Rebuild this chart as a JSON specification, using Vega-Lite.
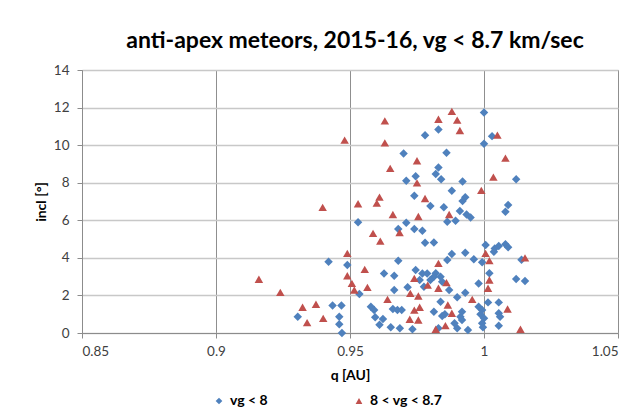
{
  "$schema": "https://vega.github.io/schema/vega-lite/v6.json",
  "width": 536,
  "height": 263,
  "autosize": {"type": "none"},
  "padding": {"left": 82, "top": 70, "right": 14, "bottom": 79},
  "background": "white",
  "title": {
    "text": "anti-apex meteors, 2015-16, vg < 8.7 km/sec",
    "font": "Lato",
    "fontSize": 23,
    "fontWeight": "bold",
    "color": "#000000",
    "anchor": "middle",
    "offset": 10,
    "dx": 5
  },
  "config": {
    "view": {"stroke": "#8c8c8c", "strokeWidth": 1},
    "axis": {
      "labelFont": "Lato",
      "labelFontSize": 13.5,
      "labelColor": "#404040",
      "titleFont": "Lato",
      "titleFontSize": 14,
      "titleFontWeight": "bold",
      "titleColor": "#000000",
      "domainColor": "#8c8c8c",
      "tickColor": "#8c8c8c",
      "tickSize": 5
    }
  },
  "data": {
    "values": [
      {"q": 0.978, "incl": 10.53, "group": "vg < 8"},
      {"q": 0.970, "incl": 9.56, "group": "vg < 8"},
      {"q": 0.9745, "incl": 8.35, "group": "vg < 8"},
      {"q": 0.971, "incl": 8.10, "group": "vg < 8"},
      {"q": 0.974, "incl": 7.30, "group": "vg < 8"},
      {"q": 0.953, "incl": 5.9, "group": "vg < 8"},
      {"q": 1.000, "incl": 11.74, "group": "vg < 8"},
      {"q": 0.983, "incl": 10.83, "group": "vg < 8"},
      {"q": 1.003, "incl": 10.48, "group": "vg < 8"},
      {"q": 1.000, "incl": 10.07, "group": "vg < 8"},
      {"q": 0.986, "incl": 9.59, "group": "vg < 8"},
      {"q": 0.983, "incl": 8.81, "group": "vg < 8"},
      {"q": 0.982, "incl": 8.46, "group": "vg < 8"},
      {"q": 0.984, "incl": 8.18, "group": "vg < 8"},
      {"q": 0.992, "incl": 8.07, "group": "vg < 8"},
      {"q": 1.012, "incl": 8.18, "group": "vg < 8"},
      {"q": 0.988, "incl": 7.57, "group": "vg < 8"},
      {"q": 0.993, "incl": 7.22, "group": "vg < 8"},
      {"q": 0.992, "incl": 7.02, "group": "vg < 8"},
      {"q": 0.980, "incl": 6.76, "group": "vg < 8"},
      {"q": 0.985, "incl": 6.69, "group": "vg < 8"},
      {"q": 1.009, "incl": 6.81, "group": "vg < 8"},
      {"q": 1.008, "incl": 6.45, "group": "vg < 8"},
      {"q": 0.991, "incl": 6.49, "group": "vg < 8"},
      {"q": 0.9935, "incl": 6.31, "group": "vg < 8"},
      {"q": 0.995, "incl": 6.15, "group": "vg < 8"},
      {"q": 0.971, "incl": 5.87, "group": "vg < 8"},
      {"q": 0.968, "incl": 5.53, "group": "vg < 8"},
      {"q": 0.974, "incl": 5.53, "group": "vg < 8"},
      {"q": 0.977, "incl": 5.44, "group": "vg < 8"},
      {"q": 0.978, "incl": 4.80, "group": "vg < 8"},
      {"q": 0.942, "incl": 3.79, "group": "vg < 8"},
      {"q": 0.949, "incl": 3.62, "group": "vg < 8"},
      {"q": 0.968, "incl": 3.85, "group": "vg < 8"},
      {"q": 0.9627, "incl": 3.17, "group": "vg < 8"},
      {"q": 0.9665, "incl": 3.05, "group": "vg < 8"},
      {"q": 0.9745, "incl": 3.35, "group": "vg < 8"},
      {"q": 0.977, "incl": 3.17, "group": "vg < 8"},
      {"q": 0.9535, "incl": 2.07, "group": "vg < 8"},
      {"q": 0.9665, "incl": 2.29, "group": "vg < 8"},
      {"q": 0.9715, "incl": 2.43, "group": "vg < 8"},
      {"q": 0.9435, "incl": 1.47, "group": "vg < 8"},
      {"q": 0.9468, "incl": 1.47, "group": "vg < 8"},
      {"q": 0.9578, "incl": 1.40, "group": "vg < 8"},
      {"q": 0.959, "incl": 1.22, "group": "vg < 8"},
      {"q": 0.966, "incl": 1.28, "group": "vg < 8"},
      {"q": 0.9677, "incl": 1.22, "group": "vg < 8"},
      {"q": 0.9693, "incl": 1.22, "group": "vg < 8"},
      {"q": 0.946, "incl": 0.87, "group": "vg < 8"},
      {"q": 0.9594, "incl": 0.84, "group": "vg < 8"},
      {"q": 0.9623, "incl": 0.74, "group": "vg < 8"},
      {"q": 0.946, "incl": 0.46, "group": "vg < 8"},
      {"q": 0.961, "incl": 0.44, "group": "vg < 8"},
      {"q": 0.9652, "incl": 0.30, "group": "vg < 8"},
      {"q": 0.9686, "incl": 0.25, "group": "vg < 8"},
      {"q": 0.9733, "incl": 0.2, "group": "vg < 8"},
      {"q": 0.947, "incl": 0.0, "group": "vg < 8"},
      {"q": 0.9863, "incl": 5.92, "group": "vg < 8"},
      {"q": 0.9894, "incl": 5.97, "group": "vg < 8"},
      {"q": 0.9813, "incl": 4.82, "group": "vg < 8"},
      {"q": 1.0006, "incl": 4.68, "group": "vg < 8"},
      {"q": 1.004, "incl": 4.5, "group": "vg < 8"},
      {"q": 1.0055, "incl": 4.63, "group": "vg < 8"},
      {"q": 1.0037, "incl": 4.32, "group": "vg < 8"},
      {"q": 1.008, "incl": 4.72, "group": "vg < 8"},
      {"q": 1.009, "incl": 4.56, "group": "vg < 8"},
      {"q": 0.988, "incl": 4.20, "group": "vg < 8"},
      {"q": 0.993, "incl": 4.27, "group": "vg < 8"},
      {"q": 0.9962, "incl": 3.92, "group": "vg < 8"},
      {"q": 0.9993, "incl": 3.76, "group": "vg < 8"},
      {"q": 0.9863, "incl": 3.88, "group": "vg < 8"},
      {"q": 0.982, "incl": 3.18, "group": "vg < 8"},
      {"q": 0.9838, "incl": 3.0, "group": "vg < 8"},
      {"q": 0.9813, "incl": 3.0, "group": "vg < 8"},
      {"q": 0.980, "incl": 2.82, "group": "vg < 8"},
      {"q": 0.9844, "incl": 2.73, "group": "vg < 8"},
      {"q": 0.987, "incl": 2.29, "group": "vg < 8"},
      {"q": 1.002, "incl": 3.18, "group": "vg < 8"},
      {"q": 0.998, "incl": 2.64, "group": "vg < 8"},
      {"q": 1.012, "incl": 2.87, "group": "vg < 8"},
      {"q": 1.0153, "incl": 2.77, "group": "vg < 8"},
      {"q": 0.993, "incl": 2.14, "group": "vg < 8"},
      {"q": 0.990, "incl": 1.90, "group": "vg < 8"},
      {"q": 1.0015, "incl": 1.63, "group": "vg < 8"},
      {"q": 1.0055, "incl": 1.63, "group": "vg < 8"},
      {"q": 0.998, "incl": 1.40, "group": "vg < 8"},
      {"q": 0.9838, "incl": 1.66, "group": "vg < 8"},
      {"q": 0.9813, "incl": 1.13, "group": "vg < 8"},
      {"q": 0.9844, "incl": 0.9, "group": "vg < 8"},
      {"q": 0.9854, "incl": 1.0, "group": "vg < 8"},
      {"q": 0.9918, "incl": 1.13, "group": "vg < 8"},
      {"q": 0.9912, "incl": 0.87, "group": "vg < 8"},
      {"q": 0.9918, "incl": 0.69, "group": "vg < 8"},
      {"q": 0.9993, "incl": 1.22, "group": "vg < 8"},
      {"q": 0.9987, "incl": 1.0, "group": "vg < 8"},
      {"q": 1.0, "incl": 0.78, "group": "vg < 8"},
      {"q": 1.0055, "incl": 1.05, "group": "vg < 8"},
      {"q": 1.006, "incl": 0.87, "group": "vg < 8"},
      {"q": 0.989, "incl": 0.52, "group": "vg < 8"},
      {"q": 0.990, "incl": 0.25, "group": "vg < 8"},
      {"q": 0.983, "incl": 0.25, "group": "vg < 8"},
      {"q": 0.994, "incl": 0.16, "group": "vg < 8"},
      {"q": 1.0055, "incl": 0.39, "group": "vg < 8"},
      {"q": 0.9993, "incl": 0.52, "group": "vg < 8"},
      {"q": 0.9305, "incl": 0.87, "group": "vg < 8"},
      {"q": 1.014, "incl": 3.9, "group": "vg < 8"},
      {"q": 0.9996, "incl": 0.30, "group": "vg < 8"},
      {"q": 0.9788, "incl": 3.17, "group": "vg < 8"},
      {"q": 0.9776, "incl": 2.46, "group": "vg < 8"},
      {"q": 0.976, "incl": 2.82, "group": "vg < 8"},
      {"q": 0.963, "incl": 11.29, "group": "8 < vg < 8.7"},
      {"q": 0.948, "incl": 10.27, "group": "8 < vg < 8.7"},
      {"q": 0.963, "incl": 10.12, "group": "8 < vg < 8.7"},
      {"q": 0.975, "incl": 9.17, "group": "8 < vg < 8.7"},
      {"q": 0.965, "incl": 8.76, "group": "8 < vg < 8.7"},
      {"q": 0.975, "incl": 7.99, "group": "8 < vg < 8.7"},
      {"q": 0.961, "incl": 7.23, "group": "8 < vg < 8.7"},
      {"q": 0.978, "incl": 7.16, "group": "8 < vg < 8.7"},
      {"q": 0.953, "incl": 6.88, "group": "8 < vg < 8.7"},
      {"q": 0.960, "incl": 6.91, "group": "8 < vg < 8.7"},
      {"q": 0.966, "incl": 6.31, "group": "8 < vg < 8.7"},
      {"q": 0.9755, "incl": 6.2, "group": "8 < vg < 8.7"},
      {"q": 0.988, "incl": 11.8, "group": "8 < vg < 8.7"},
      {"q": 0.983, "incl": 11.38, "group": "8 < vg < 8.7"},
      {"q": 0.990, "incl": 11.33, "group": "8 < vg < 8.7"},
      {"q": 0.991, "incl": 10.78, "group": "8 < vg < 8.7"},
      {"q": 1.005, "incl": 10.53, "group": "8 < vg < 8.7"},
      {"q": 1.008, "incl": 9.31, "group": "8 < vg < 8.7"},
      {"q": 1.0035, "incl": 8.30, "group": "8 < vg < 8.7"},
      {"q": 0.999, "incl": 7.59, "group": "8 < vg < 8.7"},
      {"q": 0.987, "incl": 6.31, "group": "8 < vg < 8.7"},
      {"q": 0.9685, "incl": 5.34, "group": "8 < vg < 8.7"},
      {"q": 0.9586, "incl": 5.30, "group": "8 < vg < 8.7"},
      {"q": 0.9613, "incl": 4.89, "group": "8 < vg < 8.7"},
      {"q": 0.949, "incl": 4.24, "group": "8 < vg < 8.7"},
      {"q": 0.9555, "incl": 3.39, "group": "8 < vg < 8.7"},
      {"q": 0.949, "incl": 3.05, "group": "8 < vg < 8.7"},
      {"q": 0.974, "incl": 2.91, "group": "8 < vg < 8.7"},
      {"q": 0.9507, "incl": 2.64, "group": "8 < vg < 8.7"},
      {"q": 0.9516, "incl": 2.29, "group": "8 < vg < 8.7"},
      {"q": 0.9565, "incl": 2.43, "group": "8 < vg < 8.7"},
      {"q": 0.964, "incl": 1.79, "group": "8 < vg < 8.7"},
      {"q": 0.9725, "incl": 2.11, "group": "8 < vg < 8.7"},
      {"q": 0.9755, "incl": 1.97, "group": "8 < vg < 8.7"},
      {"q": 0.974, "incl": 1.22, "group": "8 < vg < 8.7"},
      {"q": 0.976, "incl": 1.37, "group": "8 < vg < 8.7"},
      {"q": 0.9723, "incl": 0.73, "group": "8 < vg < 8.7"},
      {"q": 0.9755, "incl": 0.69, "group": "8 < vg < 8.7"},
      {"q": 1.0006, "incl": 4.24, "group": "8 < vg < 8.7"},
      {"q": 1.002, "incl": 3.85, "group": "8 < vg < 8.7"},
      {"q": 1.0153, "incl": 4.0, "group": "8 < vg < 8.7"},
      {"q": 0.983, "incl": 3.71, "group": "8 < vg < 8.7"},
      {"q": 0.986, "incl": 2.68, "group": "8 < vg < 8.7"},
      {"q": 0.983, "incl": 2.38, "group": "8 < vg < 8.7"},
      {"q": 1.002, "incl": 2.82, "group": "8 < vg < 8.7"},
      {"q": 1.0015, "incl": 2.38, "group": "8 < vg < 8.7"},
      {"q": 0.9956, "incl": 1.79, "group": "8 < vg < 8.7"},
      {"q": 0.9865, "incl": 1.49, "group": "8 < vg < 8.7"},
      {"q": 0.988, "incl": 1.05, "group": "8 < vg < 8.7"},
      {"q": 1.0088, "incl": 1.28, "group": "8 < vg < 8.7"},
      {"q": 0.9856, "incl": 0.39, "group": "8 < vg < 8.7"},
      {"q": 0.982, "incl": 0.2, "group": "8 < vg < 8.7"},
      {"q": 1.0136, "incl": 0.2, "group": "8 < vg < 8.7"},
      {"q": 0.9398, "incl": 6.69, "group": "8 < vg < 8.7"},
      {"q": 0.916, "incl": 2.86, "group": "8 < vg < 8.7"},
      {"q": 0.924, "incl": 2.16, "group": "8 < vg < 8.7"},
      {"q": 0.9323, "incl": 1.37, "group": "8 < vg < 8.7"},
      {"q": 0.9373, "incl": 1.53, "group": "8 < vg < 8.7"},
      {"q": 0.934, "incl": 0.55, "group": "8 < vg < 8.7"},
      {"q": 0.940, "incl": 0.78, "group": "8 < vg < 8.7"},
      {"q": 0.979, "incl": 2.55, "group": "8 < vg < 8.7"}
    ]
  },
  "mark": {"type": "point", "filled": true, "opacity": 1, "size": 72},
  "encoding": {
    "x": {
      "field": "q",
      "type": "quantitative",
      "title": "q [AU]",
      "scale": {"domain": [0.85, 1.05], "nice": false, "zero": false},
      "axis": {
        "values": [0.85, 0.9, 0.95, 1, 1.05],
        "labelExpr": "datum.value === 1 ? '1' : format(datum.value, '~g')",
        "gridColor": "#8f8f8f",
        "gridWidth": 1,
        "labelPadding": 6,
        "titlePadding": 11
      }
    },
    "y": {
      "field": "incl",
      "type": "quantitative",
      "title": "incl [°]",
      "scale": {"domain": [0, 14], "nice": false},
      "axis": {
        "values": [0, 2, 4, 6, 8, 10, 12, 14],
        "gridColor": "#c8c8c8",
        "gridWidth": 1.5,
        "labelPadding": 8,
        "titlePadding": 5
      }
    },
    "color": {
      "field": "group",
      "type": "nominal",
      "scale": {"domain": ["vg < 8", "8 < vg < 8.7"], "range": ["#4F81BD", "#C0504D"]},
      "legend": {
        "title": null,
        "orient": "none",
        "direction": "horizontal",
        "legendX": 130,
        "legendY": 324,
        "labelFont": "Lato",
        "labelFontSize": 14,
        "labelFontWeight": "bold",
        "labelColor": "#000000",
        "symbolSize": 45,
        "columnPadding": 84
      }
    },
    "shape": {
      "field": "group",
      "type": "nominal",
      "scale": {"domain": ["vg < 8", "8 < vg < 8.7"], "range": ["diamond", "triangle-up"]}
    }
  }
}
